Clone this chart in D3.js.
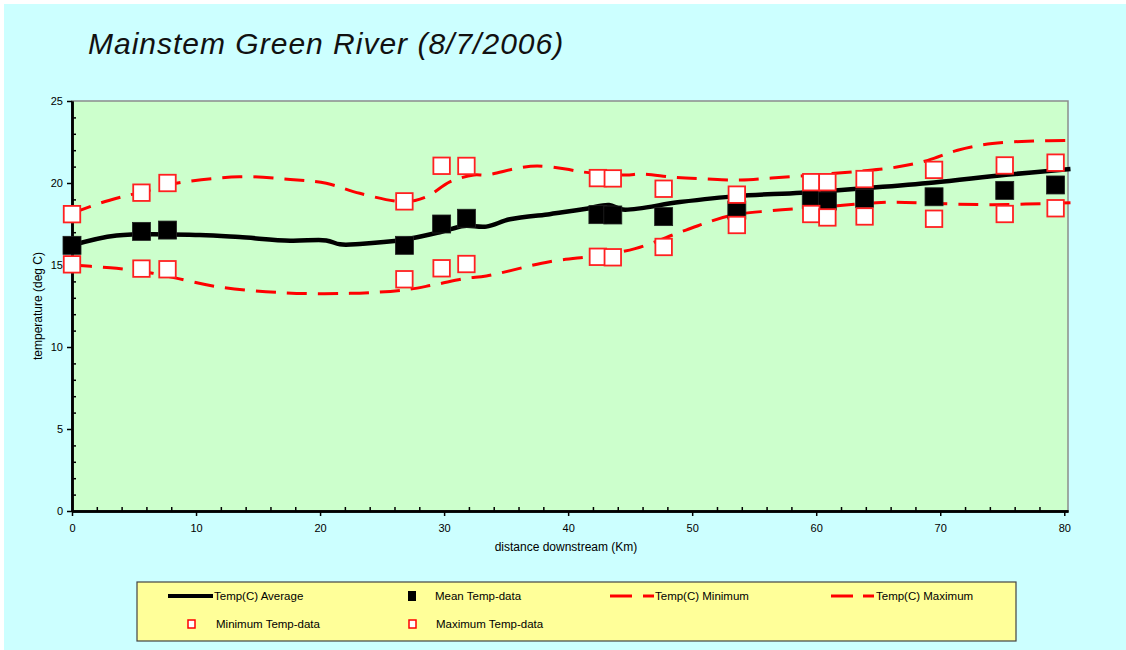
<!DOCTYPE html>
<html><head><meta charset="utf-8">
<script src="https://cdn.jsdelivr.net/npm/d3@7"></script>
<style>
html,body{margin:0;padding:0;background:#fff;}
svg{display:block;}
text{font-family:"Liberation Sans",Arial,sans-serif;}
</style></head>
<body>
<svg id="chart" width="1126" height="650"></svg>
<script>
// ---- data ----
const title = "Mainstem Green River (8/7/2006)";
const xTicks = [0,10,20,30,40,50,60,70,80];
const yTicks = [0,5,10,15,20,25];
const dataKm   = [0, 5.6, 7.7, 26.8, 29.8, 31.8, 42.4, 43.6, 47.7, 53.6, 59.6, 60.9, 63.9, 69.5, 75.2, 79.3];
const meanData = [16.2, 17.05, 17.13, 16.2, 17.5, 17.85, 18.07, 18.05, 17.95, 18.35, 19.0, 18.9, 19.06, 19.16, 19.55, 19.88];
const maxData  = [18.1, 19.41, 20.0, 18.88, 21.05, 21.04, 20.3, 20.28, 19.65, 19.29, 20.05, 20.05, 20.24, 20.8, 21.07, 21.24];
const minData  = [15.04, 14.78, 14.74, 14.13, 14.8, 15.06, 15.5, 15.47, 16.1, 17.44, 18.11, 17.9, 17.96, 17.82, 18.11, 18.46];

const avgKm  = [0, 3.6, 10.3, 13.5, 17.6, 20.5, 21.6, 23.2, 26.8, 29.8, 31.6, 33.4, 35.3, 38.5, 39.4, 41.6, 43.3, 44.4, 49.0, 53.6, 58.8, 64.6, 69.5, 75.3, 80.5];
const avgT   = [16.2, 16.8, 16.83, 16.7, 16.48, 16.5, 16.26, 16.28, 16.55, 17.03, 17.38, 17.34, 17.79, 18.1, 18.2, 18.45, 18.66, 18.38, 18.84, 19.2, 19.41, 19.72, 20.03, 20.5, 20.85];
const minKm  = [0, 1.5, 3.6, 6.5, 8.4, 11.7, 17, 22.4, 26.7, 29.1, 31.8, 33.4, 38.5, 42.4, 45.4, 49.5, 53.1, 56.4, 60.5, 66, 69.5, 74.2, 80.5];
const minT   = [15.0, 14.92, 14.8, 14.5, 14.2, 13.68, 13.31, 13.27, 13.47, 13.78, 14.19, 14.33, 15.2, 15.58, 16.0, 17.13, 18.02, 18.31, 18.54, 18.83, 18.75, 18.68, 18.8];
const maxKm  = [0, 2.3, 3.9, 6.3, 8.4, 13.5, 17.6, 20.5, 23.2, 26.8, 28.6, 30.5, 32.4, 33.4, 35.9, 37.5, 39.8, 41.2, 44.6, 46, 48.5, 51, 53.9, 56.4, 60, 63.5, 66.5, 69, 71.4, 74.2, 77.5, 80.5];
const maxT   = [18.15, 18.78, 19.13, 19.57, 19.98, 20.38, 20.22, 19.98, 19.37, 18.86, 19.17, 20.08, 20.49, 20.49, 20.9, 21.04, 20.85, 20.67, 20.49, 20.55, 20.35, 20.25, 20.18, 20.3, 20.5, 20.72, 20.97, 21.38, 22.0, 22.41, 22.56, 22.6];
const legendRow1 = ["Temp(C) Average", "Mean Temp-data", "Temp(C) Minimum", "Temp(C) Maximum"];
const legendRow2 = ["Minimum Temp-data", "Maximum Temp-data"];

// ---- drawing ----
const svg = d3.select("#chart");
svg.append("rect").attr("x",4).attr("y",4).attr("width",1122).attr("height",646).attr("fill","#CCFFFF");

const L=72, R=1068, T=101, B=511;
const x = d3.scaleLinear().domain([0,80.3]).range([L,R]);
const y = d3.scaleLinear().domain([0,25]).range([B,T]);

svg.append("rect").attr("x",L).attr("y",T).attr("width",R-L).attr("height",B-T)
  .attr("fill","#CCFFCC").attr("stroke","#8c8c8c").attr("stroke-width",1.5);

svg.append("text").attr("x",88).attr("y",54).attr("font-size",30).attr("font-style","italic")
  .attr("letter-spacing",1).attr("fill","#111").text(title);

// axes
const xMinor = d3.range(0,81,2).filter(v=>v%10!==0);
const yMinor = d3.range(0,26,1).filter(v=>v%5!==0);
svg.append("g").attr("transform",`translate(0,${B})`)
  .call(d3.axisBottom(x).tickValues(xTicks).tickSize(5).tickSizeOuter(0).tickPadding(8).tickFormat(d3.format("d")));
svg.append("g").attr("transform",`translate(0,${B})`)
  .call(d3.axisTop(x).tickValues(xMinor).tickSize(4).tickSizeOuter(0).tickFormat(""));
svg.append("g").attr("transform",`translate(${L},0)`)
  .call(d3.axisLeft(y).tickValues(yTicks).tickSize(5).tickSizeOuter(0).tickPadding(4).tickFormat(d3.format("d")));
svg.append("g").attr("transform",`translate(${L},0)`)
  .call(d3.axisRight(y).tickValues(yMinor).tickSize(4).tickSizeOuter(0).tickFormat(""));
svg.selectAll(".domain").attr("stroke","#000").attr("stroke-width",2.5);
svg.selectAll(".tick line").attr("stroke","#000").attr("stroke-width",1.5);
svg.selectAll(".tick text").attr("font-size",11).attr("fill","#000").attr("font-family","Liberation Sans, Arial, sans-serif");

svg.append("text").attr("x",566).attr("y",551).attr("text-anchor","middle").attr("font-size",12).text("distance downstream (Km)");
svg.append("text").attr("transform","translate(42,306) rotate(-90)").attr("text-anchor","middle").attr("font-size",12).text("temperature (deg C)");

// lines
const line = d3.line().x(d=>x(d[0])).y(d=>y(d[1])).curve(d3.curveCatmullRom.alpha(0.5));
svg.append("path").datum(d3.zip(minKm,minT)).attr("d",line).attr("fill","none")
  .attr("stroke","#ff0000").attr("stroke-width",3).attr("stroke-dasharray","20,11");
svg.append("path").datum(d3.zip(maxKm,maxT)).attr("d",line).attr("fill","none")
  .attr("stroke","#ff0000").attr("stroke-width",3).attr("stroke-dasharray","20,11");
svg.append("path").datum(d3.zip(avgKm,avgT)).attr("d",line).attr("fill","none")
  .attr("stroke","#000").attr("stroke-width",4.5);

// markers
const S=18;
svg.append("g").selectAll("rect").data(d3.zip(dataKm,meanData)).join("rect")
  .attr("x",d=>x(d[0])-S/2).attr("y",d=>y(d[1])-S/2).attr("width",S).attr("height",S)
  .attr("fill","#000").attr("stroke","#222").attr("stroke-width",0.8);
const sq = (vals)=> svg.append("g").selectAll("rect").data(d3.zip(dataKm,vals)).join("rect")
  .attr("x",d=>x(d[0])-S/2+0.75).attr("y",d=>y(d[1])-S/2+0.75).attr("width",S-1.5).attr("height",S-1.5)
  .attr("fill","#fff").attr("stroke","#ff2020").attr("stroke-width",1.8);
sq(minData); sq(maxData);

// legend
const lg = svg.append("g");
lg.append("rect").attr("x",137).attr("y",582).attr("width",879).attr("height",59)
  .attr("fill","#FFFF99").attr("stroke","#444").attr("stroke-width",1.2);
const r1=596, r2=624;
lg.append("line").attr("x1",168).attr("x2",213).attr("y1",r1).attr("y2",r1).attr("stroke","#000").attr("stroke-width",4);
lg.append("rect").attr("x",408).attr("y",r1-5).attr("width",8).attr("height",10).attr("fill","#000");
[[610,632],[643,654]].forEach(s=>lg.append("line").attr("x1",s[0]).attr("x2",s[1]).attr("y1",r1).attr("y2",r1).attr("stroke","#f00").attr("stroke-width",3));
[[831,853],[863,874]].forEach(s=>lg.append("line").attr("x1",s[0]).attr("x2",s[1]).attr("y1",r1).attr("y2",r1).attr("stroke","#f00").attr("stroke-width",3));
[[188,r2],[409,r2]].forEach(p=>lg.append("rect").attr("x",p[0]).attr("y",p[1]-4).attr("width",7).attr("height",8).attr("fill","#fff").attr("stroke","#f00").attr("stroke-width",1.5));
const tx1=[214,435,655,876], tx2=[216,436];
legendRow1.forEach((t,i)=>lg.append("text").attr("x",tx1[i]).attr("y",r1+4).attr("font-size",11.5).text(t));
legendRow2.forEach((t,i)=>lg.append("text").attr("x",tx2[i]).attr("y",r2+4).attr("font-size",11.5).text(t));
</script>
</body></html>
